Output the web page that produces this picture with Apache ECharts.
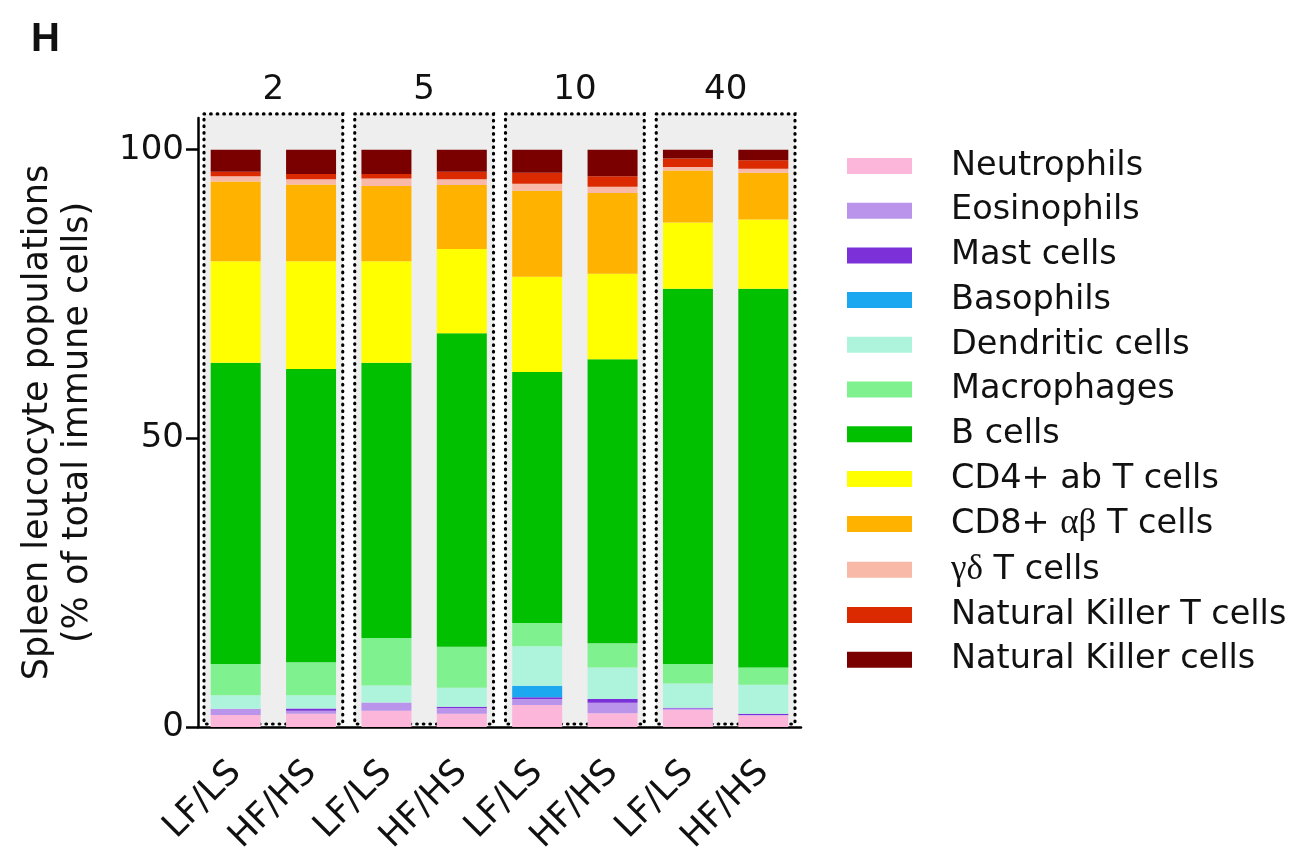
<!DOCTYPE html>
<html>
<head>
<meta charset="utf-8">
<title>Spleen leucocyte populations</title>
<script src="https://cdn.jsdelivr.net/npm/echarts@6/dist/echarts.min.js"></script>
<style>
  html, body { margin: 0; padding: 0; background: #ffffff; }
  #chart { width: 1298px; height: 852px; }
</style>
</head>
<body>
<div id="chart"></div>
<script>
// Bar categories (diet per group) and group labels (weeks)
const categories = ['LF/LS', 'HF/HS', 'LF/LS', 'HF/HS', 'LF/LS', 'HF/HS', 'LF/LS', 'HF/HS'];
const groups = ['2', '5', '10', '40'];
const yTicks = [0, 50, 100];

// Percent of total immune cells, one value per bar, stacked bottom to top
const neutrophils = [2.1, 2.3, 2.8, 2.3, 3.8, 2.4, 3.0, 2.0];
const eosinophils = [1.05, 0.5, 1.45, 1.0, 1.05, 1.8, 0.2, 0.1];
const mastCells   = [0, 0.4, 0, 0.2, 0.3, 0.65, 0.15, 0.2];
const basophils   = [0, 0, 0, 0, 2.0, 0, 0, 0];
const dendritic   = [2.35, 2.3, 2.95, 3.3, 6.85, 5.45, 4.2, 5.0];
const macrophages = [5.4, 5.7, 8.2, 7.1, 4.0, 4.2, 3.35, 3.0];
const bCells      = [52.2, 50.8, 47.7, 54.3, 43.5, 49.2, 65.0, 65.6];
const cd4T        = [17.6, 18.7, 17.6, 14.6, 16.5, 14.8, 11.5, 12.0];
const cd8T        = [13.8, 13.3, 13.0, 11.1, 14.9, 14.0, 9.0, 8.1];
const gdT         = [0.9, 0.9, 1.3, 1.0, 1.2, 1.1, 0.6, 0.7];
const nkT         = [0.8, 0.9, 0.8, 1.3, 1.9, 1.8, 1.5, 1.5];
const nkCells     = [3.8, 4.2, 4.2, 3.8, 4.0, 4.6, 1.5, 1.8];

const populations = [
  { name: 'Neutrophils',            color: '#fbb6da', data: neutrophils },
  { name: 'Eosinophils',            color: '#b994ea', data: eosinophils },
  { name: 'Mast cells',             color: '#7b30d8', data: mastCells },
  { name: 'Basophils',              color: '#1ba8f0', data: basophils },
  { name: 'Dendritic cells',        color: '#aef4dd', data: dendritic },
  { name: 'Macrophages',            color: '#80f18f', data: macrophages },
  { name: 'B cells',                color: '#00c000', data: bCells },
  { name: 'CD4+ ab T cells',        color: '#ffff00', data: cd4T },
  { name: 'CD8+ αβ T cells',        color: '#ffb300', data: cd8T },
  { name: 'γδ T cells',             color: '#f9b9a9', data: gdT },
  { name: 'Natural Killer T cells', color: '#dc2a00', data: nkT },
  { name: 'Natural Killer cells',   color: '#7a0000', data: nkCells }
];

const FONT = 'DejaVu Sans';
const TEXT = '#111111';
const Y_TOP = 105.5;      // axis line runs a little above 100
const BOX_TOP = 106.2;    // dotted group frames
const BOX_INSET = 6;

const chart = echarts.init(document.getElementById('chart'), null, { renderer: 'canvas' });

const barSeries = populations.map(p => ({
  name: p.name,
  type: 'bar',
  stack: 'total',
  xAxisIndex: 0,
  yAxisIndex: 0,
  barWidth: 50,
  z: 3,
  itemStyle: { color: p.color },
  emphasis: { disabled: true },
  data: p.data
}));

// Grey panels with dotted outlines, one per time point
const frameSeries = {
  type: 'custom',
  xAxisIndex: 1,
  yAxisIndex: 0,
  z: 1,
  silent: true,
  clip: false,
  data: groups.map((g, i) => [i]),
  renderItem: function (params, api) {
    const idx = api.value(0);
    const base = api.coord([idx, 0]);
    const top = api.coord([idx, BOX_TOP]);
    const bw = api.size([1, 0])[0];
    const x0 = base[0] - bw / 2 + BOX_INSET;
    const x1 = base[0] + bw / 2 - BOX_INSET;
    return {
      type: 'rect',
      shape: { x: x0, y: top[1], width: x1 - x0, height: base[1] - top[1] - 3 },
      style: {
        fill: '#eeeeee',
        stroke: '#000000',
        lineWidth: 3.2,
        lineDash: [0.6, 6],
        lineCap: 'round'
      }
    };
  }
};

const option = {
  backgroundColor: '#ffffff',
  animation: false,
  title: {
    text: 'H',
    left: 26,
    top: 15,
    textStyle: { fontFamily: 'Liberation Sans', fontWeight: 'bold', fontSize: 40, color: TEXT }
  },
  legend: {
    orient: 'vertical',
    left: 842,
    top: 144,
    itemWidth: 65,
    itemHeight: 16,
    itemGap: 10.7,
    icon: 'rect',
    selectedMode: false,
    data: populations.map(p => p.name),
    formatter: name => name.replace(/([αβγδ]+)/g, '{g|$1}'),
    textStyle: {
      fontFamily: FONT,
      fontSize: 33.5,
      lineHeight: 34,
      color: TEXT,
      padding: [0, 0, 0, 34],
      rich: {
        g: { fontFamily: 'Liberation Serif', fontSize: 35, lineHeight: 34, color: TEXT }
      }
    }
  },
  grid: {
    left: 198,
    right: 497,
    top: 118,
    bottom: 125,
    containLabel: false,
    outerBoundsMode: 'none'
  },
  xAxis: [
    {
      type: 'category',
      data: categories,
      position: 'bottom',
      axisLine: { lineStyle: { color: '#000000', width: 2.5 } },
      axisTick: { alignWithLabel: true, length: 19, lineStyle: { color: '#000000', width: 2.5 } },
      axisLabel: {
        rotate: 45,
        margin: 40,
        fontFamily: FONT,
        fontSize: 35,
        color: TEXT,
        interval: 0
      }
    },
    {
      type: 'category',
      data: groups,
      position: 'top',
      axisLine: { show: false },
      axisTick: { show: false },
      axisLabel: {
        margin: 11,
        fontFamily: FONT,
        fontSize: 34,
        color: TEXT,
        interval: 0
      }
    }
  ],
  yAxis: {
    type: 'value',
    min: 0,
    max: Y_TOP,
    interval: 50,
    name: 'Spleen leucocyte populations\n(% of total immune cells)',
    nameLocation: 'middle',
    nameRotate: 90,
    nameGap: 100,
    nameTextStyle: { fontFamily: FONT, fontSize: 35, lineHeight: 40, color: TEXT },
    splitLine: { show: false },
    axisLine: { show: true, lineStyle: { color: '#000000', width: 2.5 } },
    axisTick: { show: true, length: 12, customValues: yTicks, lineStyle: { color: '#000000', width: 2.5 } },
    axisLabel: {
      customValues: yTicks,
      margin: 14,
      fontFamily: FONT,
      fontSize: 34,
      color: TEXT,
      formatter: v => (yTicks.indexOf(v) >= 0 ? String(v) : '')
    }
  },
  series: [frameSeries].concat(barSeries)
};

chart.setOption(option);
</script>
</body>
</html>
